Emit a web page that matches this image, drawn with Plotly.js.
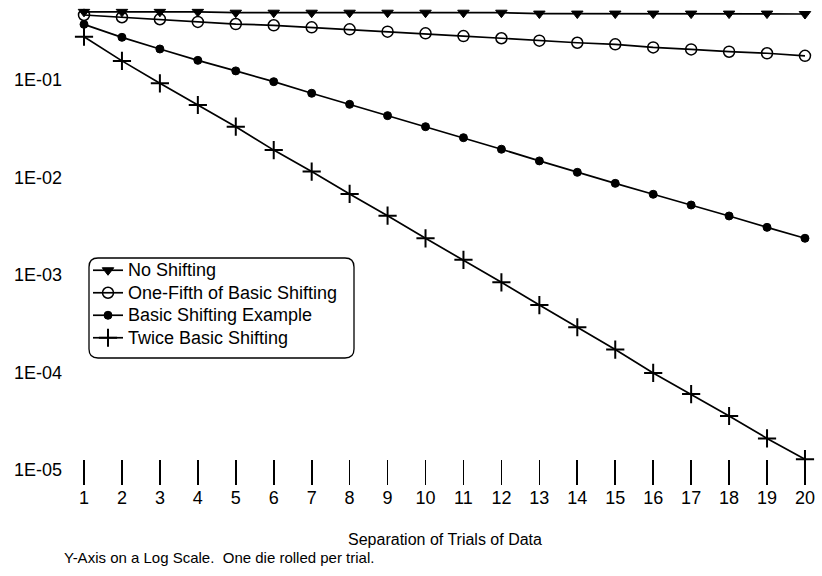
<!DOCTYPE html>
<html>
<head>
<meta charset="utf-8">
<script src="https://cdn.plot.ly/plotly-3.0.1.min.js"></script>
<style>
  html, body { margin: 0; padding: 0; background: #fff; }
  #chart { width: 822px; height: 576px; }
</style>
</head>
<body>
<div id="chart"></div>
<script>
// Separation between trials (x axis)
const separation = [1, 2, 3, 4, 5, 6, 7, 8, 9, 10, 11, 12, 13, 14, 15, 16, 17, 18, 19, 20];

// Values for each shifting scheme, plotted on a log scale
const noShifting = [0.50, 0.50, 0.50, 0.50, 0.49, 0.49, 0.49, 0.49, 0.49, 0.49,
                    0.49, 0.49, 0.48, 0.48, 0.48, 0.48, 0.48, 0.48, 0.48, 0.475];
const oneFifthShifting = [0.464, 0.440, 0.420, 0.394, 0.375, 0.364, 0.347, 0.331, 0.313, 0.301,
                          0.282, 0.268, 0.253, 0.241, 0.232, 0.216, 0.206, 0.195, 0.188, 0.177];
const basicShifting = [0.372, 0.274, 0.208, 0.159, 0.124, 0.0961, 0.0731, 0.0563, 0.0431, 0.0332,
                       0.0256, 0.0195, 0.0148, 0.0113, 0.00871, 0.00673, 0.00522, 0.00403, 0.00308, 0.00238];
const twiceShifting = [0.278, 0.157, 0.0925, 0.0554, 0.0332, 0.0191, 0.0115, 0.00678, 0.00406, 0.00238,
                       0.00143, 0.000842, 0.000492, 0.000291, 0.000172, 0.0000989, 0.0000601, 0.0000358, 0.0000211, 0.0000129];

const seriesNames = ["No Shifting", "One-Fifth of Basic Shifting", "Basic Shifting Example", "Twice Basic Shifting"];
const yTickValues = [1e-5, 1e-4, 1e-3, 1e-2, 1e-1];
const yTickLabels = ["1E-05", "1E-04", "1E-03", "1E-02", "1E-01"];
const xTickLabels = separation.map(String);

const ink = "#000000";
const sansFont = "Liberation Sans, Arial, Helvetica, sans-serif";

// legend rows are spaced by the legend font size; the label itself is drawn larger
const legendLabel = name => `<span style="font-size:18px">${name}</span>`;

function series(name, y, symbol, size, lineWidth) {
  return {
    type: "scatter",
    mode: "lines+markers",
    name: legendLabel(name),
    x: separation,
    y: y,
    line: { color: ink, width: 1.7 },
    marker: {
      symbol: symbol,
      size: size,
      color: ink,
      line: { color: ink, width: lineWidth }
    },
    cliponaxis: false
  };
}

const traces = [
  series(seriesNames[0], noShifting, "triangle-down", 10, 1),
  series(seriesNames[1], oneFifthShifting, "circle-open", 11, 1.5),
  series(seriesNames[2], basicShifting, "circle", 8, 1),
  series(seriesNames[3], twiceShifting, "cross-thin-open", 13, 2)
];

// plot area geometry (pixels) used for the legend frame and footnote
const W = 822, H = 576;
const M = { l: 78, r: 10, t: 5, b: 91 };
const plotW = W - M.l - M.r, plotH = H - M.t - M.b;
const px = p => (p - M.l) / plotW;
const py = p => (H - M.b - p) / plotH;

function roundedBox(x0, y0, x1, y1, r) {
  const a = px(x0), b = px(x1), top = py(y0), bot = py(y1);
  const rx = r / plotW, ry = r / plotH;
  return `M ${a + rx} ${top} L ${b - rx} ${top} Q ${b} ${top} ${b} ${top - ry} ` +
         `L ${b} ${bot + ry} Q ${b} ${bot} ${b - rx} ${bot} ` +
         `L ${a + rx} ${bot} Q ${a} ${bot} ${a} ${bot + ry} ` +
         `L ${a} ${top - ry} Q ${a} ${top} ${a + rx} ${top} Z`;
}

const layout = {
  width: W,
  height: H,
  margin: M,
  paper_bgcolor: "#ffffff",
  plot_bgcolor: "#ffffff",
  showlegend: true,
  font: { family: sansFont, color: ink },
  xaxis: {
    range: [0.8419, 20.185],
    tickmode: "array",
    tickvals: separation,
    ticktext: xTickLabels,
    ticks: "inside",
    ticklen: 25,
    tickwidth: 1.7,
    tickcolor: ink,
    showline: false,
    showgrid: false,
    zeroline: false,
    tickfont: { family: sansFont, size: 18, color: ink },
    title: {
      text: "Separation of Trials of Data",
      font: { family: sansFont, size: 16, color: ink },
      standoff: 26
    }
  },
  yaxis: {
    type: "log",
    range: [-5.1538, -0.2308],
    tickmode: "array",
    tickvals: yTickValues,
    ticktext: yTickLabels,
    ticks: "",
    ticklabelstandoff: 15,
    showline: false,
    showgrid: false,
    zeroline: false,
    tickfont: { family: sansFont, size: 18, color: ink }
  },
  legend: {
    x: px(88),
    y: py(254),
    xanchor: "left",
    yanchor: "top",
    bgcolor: "rgba(0,0,0,0)",
    borderwidth: 0,
    font: { family: sansFont, size: 15, color: ink },
    tracegroupgap: 0,
    itemwidth: 30
  },
  shapes: [
    {
      // rounded frame around the legend
      type: "path",
      xref: "paper",
      yref: "paper",
      path: roundedBox(89, 258, 354, 358, 9),
      line: { color: ink, width: 1.3 },
      fillcolor: "rgba(0,0,0,0)"
    }
  ],
  annotations: [
    {
      text: "Y-Axis on a Log Scale.  One die rolled per trial.",
      xref: "paper",
      yref: "paper",
      x: px(62),
      y: py(557),
      xanchor: "left",
      yanchor: "middle",
      showarrow: false,
      font: { family: sansFont, size: 15, color: ink }
    }
  ]
};

Plotly.newPlot("chart", traces, layout, { displayModeBar: false, staticPlot: true });
</script>
</body>
</html>
